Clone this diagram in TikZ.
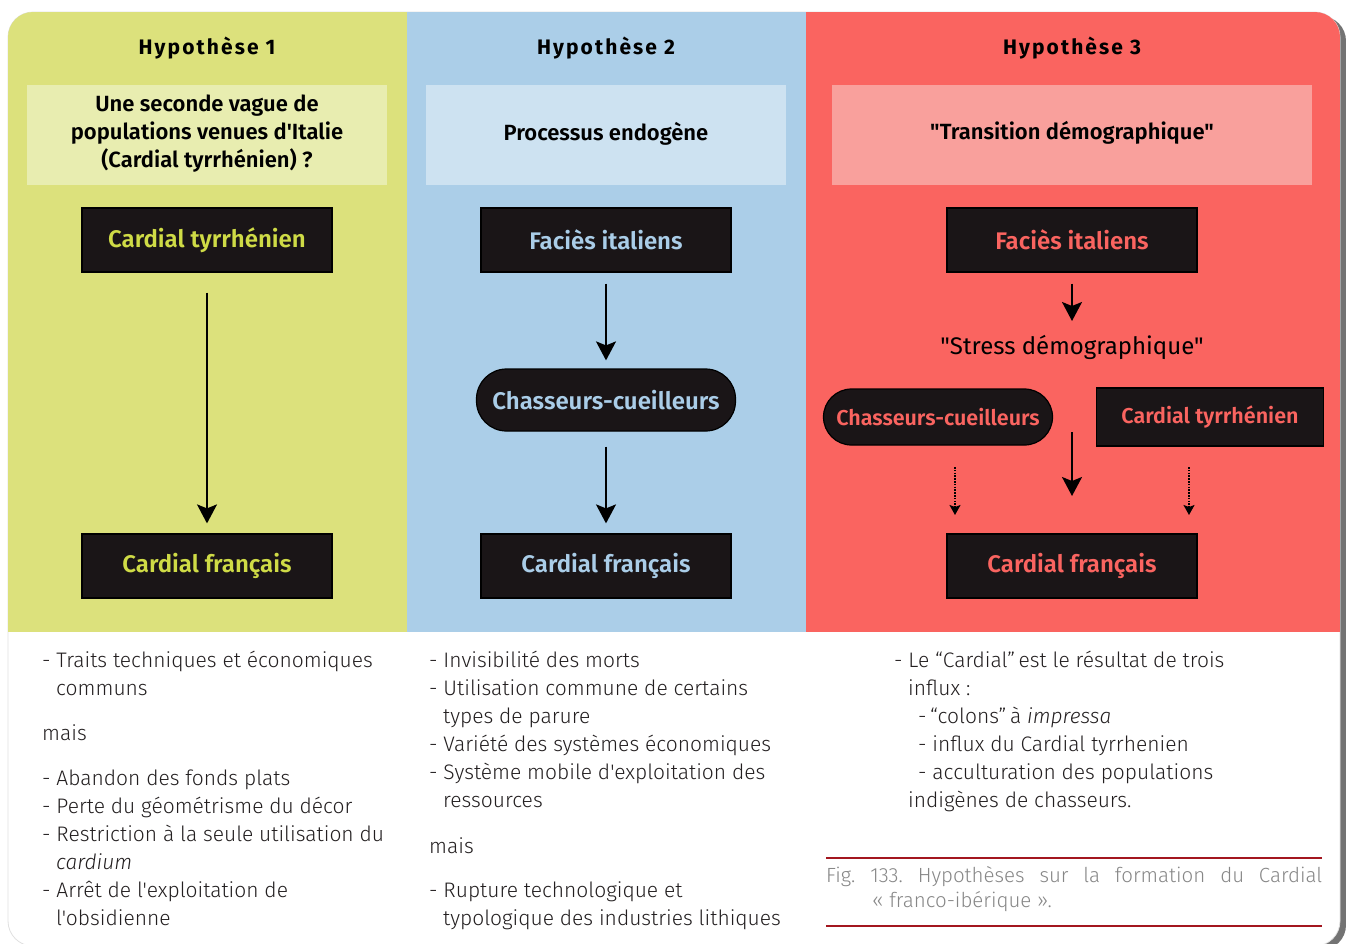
\documentclass[tikz,border=0pt]{standalone}
\usepackage{fontspec}
\setmainfont{Fira Sans}
\usetikzlibrary{arrows.meta}
\newfontfamily\lightf[ItalicFont={Fira Sans Light Italic}]{Fira Sans Light}
\newfontfamily\capf[Numbers=Lining]{Fira Sans Light}
\newfontfamily\semif{Fira Sans SemiBold}
\newfontfamily\headf[LetterSpace=10]{Fira Sans Bold}
\newfontfamily\regf{Fira Sans}
\definecolor{pA}{RGB}{220,225,124}
\definecolor{pAl}{RGB}{232,237,176}
\definecolor{pAt}{RGB}{207,219,70}
\definecolor{pB}{RGB}{171,206,232}
\definecolor{pBl}{RGB}{205,226,241}
\definecolor{pBt}{RGB}{170,205,232}
\definecolor{pC}{RGB}{250,100,96}
\definecolor{pCl}{RGB}{249,160,156}
\definecolor{pCt}{RGB}{250,100,96}
\definecolor{boxfill}{RGB}{26,21,23}
\definecolor{bodytext}{RGB}{35,31,32}
\definecolor{capgray}{RGB}{135,135,135}
\definecolor{caprule}{RGB}{163,22,31}
\begin{document}
\begin{tikzpicture}[x=1pt,y=-1pt,
  blk/.style={draw=black, line width=1.2pt, fill=boxfill, minimum width=250pt, minimum height=64pt, inner sep=0pt, font=\semif\fontsize{24}{28}\selectfont},
  pill/.style={blk, rounded corners=30pt},
  smalllbl/.style={font=\semif\fontsize{21.5}{26}\selectfont},
  arr/.style={line width=2pt, -{Stealth[length=19pt,width=20pt,inset=4pt]}},
  darr/.style={line width=1.6pt, dash pattern=on 1.6pt off 1.2pt, -{Stealth[length=10pt,width=11pt,inset=2pt]}},
  body/.style={anchor=base west, inner sep=0pt, text=bodytext, font=\lightf\fontsize{21}{28}\selectfont},
  hdr/.style={anchor=base, inner sep=0pt, font=\headf\fontsize{21}{24}\selectfont},
  sub/.style={align=center, inner sep=0pt, font=\semif\fontsize{22}{28}\selectfont},
  captxt/.style={anchor=base west, inner sep=0pt, text=capgray, font=\capf\fontsize{20.5}{26}\selectfont\frenchspacing}
]
\useasboundingbox (0,0) rectangle (1346,943);
% shadow and card
\fill[black!55] (14,16) [rounded corners=25pt] rectangle (1346,950);
\fill[white, draw=black!12, line width=0.8pt, rounded corners=25pt] (8,12) rectangle (1340,946);
\begin{scope}
  \clip[rounded corners=25pt] (8,12) rectangle (1340,946);
  \fill[pA] (8,12) rectangle (407,632);
  \fill[pB] (407,12) rectangle (806,632);
  \fill[pC] (806,12) rectangle (1340,632);
\end{scope}
% light boxes
\fill[pAl] (27,85) rectangle (387,185);
\fill[pBl] (426,85) rectangle (786,185);
\fill[pCl] (832,85) rectangle (1312,185);
% headers
\node[hdr] (h1) at (207,54) {Hypothèse 1};
\node[hdr] (h2) at (606,54) {Hypothèse 2};
\node[hdr] (h3) at (1072,54) {Hypothèse 3};
\node[sub] (s1) at (207,134) {Une seconde vague de\\populations venues d'Italie\\(Cardial tyrrhénien) ?};
\node[sub] (s2) at (606,134) {Processus endogène};
\node[sub] (s3) at (1072,133) {"Transition démographique"};
% panel 1
\node[blk, text=pAt] (ct1) at (207,240) {Cardial tyrrhénien};
\node[blk, text=pAt] (cf1) at (207,566) {Cardial français};
\draw[arr, shorten <=20pt, shorten >=10pt] (ct1) -- (cf1);
% panel 2
\node[blk, text=pBt] (fi2) at (606,240) {Faciès italiens};
\node[pill, text=pBt, minimum width=259pt, minimum height=62pt] (ch2) at (606,400) {Chasseurs-cueilleurs};
\node[blk, text=pBt] (cf2) at (606,566) {Cardial français};
\draw[arr, shorten <=11pt, shorten >=8pt] (fi2) -- (ch2);
\draw[arr, shorten <=15pt, shorten >=10pt] (ch2) -- (cf2);
% panel 3
\node[blk, text=pCt] (fi3) at (1072,240) {Faciès italiens};
\node[inner sep=0pt, anchor=base, font=\regf\fontsize{24}{28}\selectfont] (st3) at (1072,354) {"Stress démographique"};
\node[pill, smalllbl, text=pCt, minimum width=229pt, minimum height=56pt, rounded corners=28pt] (ch3) at (938,417) {Chasseurs-cueilleurs};
\node[blk, smalllbl, text=pCt, minimum width=227pt, minimum height=58pt] (ty3) at (1210,417) {Cardial tyrrhénien};
\node[blk, text=pCt] (cf3) at (1072,566) {Cardial français};
\draw[arr, shorten <=11pt] (fi3.south) -- (st3.north |- 0,321);
\coordinate (m3a) at (1072,432);
\draw[arr] (m3a) -- (cf3.north |- 0,496);
\coordinate (d1a) at (955,467);
\coordinate (d1b) at (955,515);
\coordinate (d2a) at (1189,467);
\coordinate (d2b) at (1189,515);
\draw[darr] (d1a) -- (d1b);
\draw[darr] (d2a) -- (d2b);
% body texts
\foreach \yy/\xx/\txt [count=\i] in {667/42/{- Traits techniques et économiques}, 695/56/{communs}, 740/42/{mais}, 785/42/{- Abandon des fonds plats}, 813/42/{- Perte du géométrisme du décor}, 841/42/{- Restriction à la seule utilisation du}, 869/56/{\itshape cardium}, 897/42/{- Arrêt de l'exploitation de}, 925/56/{l'obsidienne}}
  \node[body] (ta\i) at (\xx,\yy) {\txt};
\foreach \yy/\xx/\txt [count=\i] in {667/429/{- Invisibilité des morts}, 695/429/{- Utilisation commune de certains}, 723/443/{types de parure}, 751/429/{- Variété des systèmes économiques}, 779/429/{- Système mobile d'exploitation des}, 807/443/{ressources}, 853/429/{mais}, 897/429/{- Rupture technologique et}, 925/443/{typologique des industries lithiques}}
  \node[body] (tb\i) at (\xx,\yy) {\txt};
\foreach \yy/\xx/\txt [count=\i] in {667/894/{- Le “Cardial”\,est le résultat de trois}, 695/908/{influx :}, 723/918/{-\,“colons”\,à \textit{impressa}}, 751/918/{- influx du Cardial tyrrhenien}, 779/918/{- acculturation des populations}, 807/908/{indigènes de chasseurs.}}
  \node[body] (tc\i) at (\xx,\yy) {\txt};
% caption
\coordinate (r1a) at (826,858); \coordinate (r1b) at (1322,858);
\coordinate (r2a) at (826,926); \coordinate (r2b) at (1322,926);
\draw[caprule, line width=1.8pt] (r1a) -- (r1b);
\draw[caprule, line width=1.8pt] (r2a) -- (r2b);
\node[captxt] (c1) at (826,882) {\makebox[496pt][s]{Fig. 133. Hypothèses sur la formation du Cardial}};
\node[captxt] (c2) at (872,907) {« franco-ibérique ».};
\end{tikzpicture}
\end{document}
